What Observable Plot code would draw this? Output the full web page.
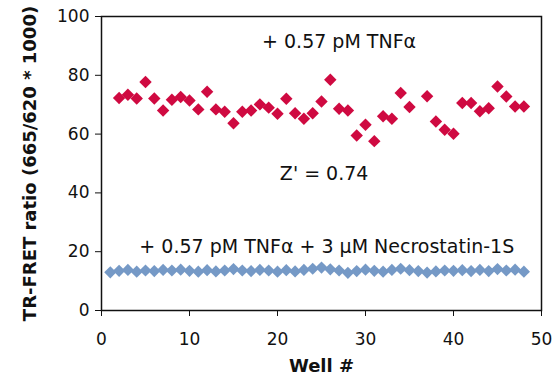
<!DOCTYPE html>
<html><head><meta charset="utf-8">
<script src="https://cdn.jsdelivr.net/npm/d3@7"></script>
<script src="https://cdn.jsdelivr.net/npm/@observablehq/plot@0.6"></script>
<style>
body{margin:0;background:#fff;}
svg{font-family:"DejaVu Sans",sans-serif;}
</style></head><body><div id="chart"></div>
<script>
const tnfWells = [2,3,4,5,6,7,8,9,10,11,12,13,14,15,16,17,18,19,20,21,22,23,24,25,26,27,28,29,30,31,32,33,34,35,37,38,39,40,41,42,43,44,45,46,47,48];
const tnfValues = [72.3,73.4,72.1,77.7,72.1,68.0,71.7,72.6,71.4,68.4,74.4,68.4,67.6,63.7,67.6,68.0,70.1,69.0,66.9,72.0,67.1,65.2,67.1,71.1,78.5,68.6,68.0,59.5,63.2,57.6,66.1,65.2,74.0,69.2,72.9,64.3,61.5,60.1,70.6,70.6,67.8,68.8,76.2,72.8,69.4,69.4];
const necWells = d3.range(1,49);
const necValues = [13.0,13.5,13.8,13.2,13.6,13.4,13.8,13.6,13.9,13.5,13.2,13.7,13.3,13.6,14.1,13.6,13.4,13.8,13.6,13.2,13.7,13.3,13.8,14.2,14.6,14.0,13.6,12.8,13.4,13.9,13.5,13.2,13.8,14.2,13.7,13.4,12.9,13.3,13.6,13.5,13.7,13.4,13.8,13.4,14.1,13.6,13.9,13.2];
const annotationTexts = ["+ 0.57 pM TNFα", "Z' = 0.74", "+ 0.57 pM TNFα + 3 µM Necrostatin-1S"];
const annotationX = [27.0, 25.3, 25.6];
const annotationY = [91.2, 46.6, 21.8];
const xTicks = [0,10,20,30,40,50];
const yTicks = [0,20,40,60,80,100];

const tnf = tnfWells.map((w,i)=>({well:w, v:tnfValues[i]}));
const nec = necWells.map((w,i)=>({well:w, v:necValues[i]}));
const ann = annotationTexts.map((t,i)=>({t, x:annotationX[i], y:annotationY[i]}));

const chart = Plot.plot({
  width:560, height:376,
  marginLeft:101, marginRight:19, marginTop:16, marginBottom:66,
  style:{fontSize:"17px", color:"#111", background:"#fff"},
  x:{domain:[0,50]},
  y:{domain:[0,100]},
  marks:[
    Plot.frame({stroke:"#111", strokeWidth:1.5}),
    Plot.axisX({ticks:xTicks, tickSize:6, tickPadding:16, label:"Well #", labelAnchor:"center", labelOffset:61, labelArrow:"none", fontSize:17}),
    Plot.axisY({ticks:yTicks, tickSize:6, tickPadding:6, label:"TR-FRET ratio (665/620 * 1000)", labelAnchor:"center", labelOffset:78, labelArrow:"none", fontSize:17}),
    Plot.dot(nec, {x:"well", y:"v", symbol:"diamond2", r:5.5, fill:"#7599c6", stroke:"none"}),
    Plot.dot(tnf, {x:"well", y:"v", symbol:"diamond2", r:5.6, fill:"#cf0a41", stroke:"none"}),
    Plot.text(ann, {x:"x", y:"y", text:"t", fontSize:19, fill:"#111"})
  ]
});
document.getElementById("chart").appendChild(chart);
d3.select(chart).selectAll("[aria-label='x-axis label'] text, [aria-label='y-axis label'] text, [aria-label='x-axis label'], [aria-label='y-axis label']").style("font-weight","bold").style("font-size","18px");
</script></body></html>
